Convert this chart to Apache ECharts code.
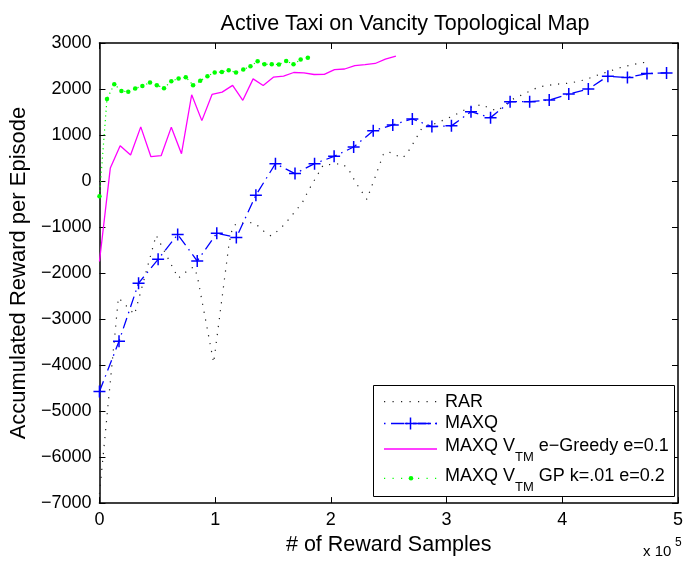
<!DOCTYPE html>
<html>
<head>
<meta charset="utf-8">
<script src="https://cdn.jsdelivr.net/npm/echarts@6/dist/echarts.min.js"></script>
<style>
  html, body { margin: 0; padding: 0; background: #fff; }
  #chart { width: 686px; height: 561px; }
</style>
</head>
<body>
<div id="chart"></div>
<script>
// Axis ticks (x in units of 1e5 reward samples)
const xTicks = [0, 1, 2, 3, 4, 5];
const yTicks = [-7000, -6000, -5000, -4000, -3000, -2000, -1000, 0, 1000, 2000, 3000];
const xScale = 100000;

// RAR (dotted black)
const rarX = [0, 16400, 30300, 49000, 68100, 78800, 81700, 84500, 98700, 112000, 115000, 118600,
  132200, 137000, 142600, 148300, 154000, 160000, 168200, 175300, 179600, 183000, 193400, 209400,
  215000, 221300, 231100, 238300, 245400, 249400, 255600, 261300, 265200, 272600, 279700, 286800,
  293000, 305200, 318000, 330500, 337000, 344100, 355400, 367300, 379600, 392800, 407100, 420800,
  427200, 440000, 453300, 466600, 473200];
const rarY = [-6800, -2535, -2900, -1177, -2112, -1894, -1873, -2056, -3950, -1362, -1010, -920,
  -905, -975, -1105, -1193, -1084, -940, -690, -470, -255, -100, 348, 378,
  270, -25, -400, 89, 583, 640, 572, 499, 572, 881, 1196, 1218,
  1276, 1412, 1578, 1665, 1578, 1527, 1757, 1900, 2043, 2101, 2130, 2208,
  2273, 2381, 2489, 2560, 2585];

// MAXQ (blue dash-dot with + markers)
const maxqX = [0, 16900, 33800, 50700, 67600, 84500, 101400, 118300, 135200, 152100, 169000, 185900,
  202800, 219700, 236600, 253500, 270400, 287300, 304200, 321100, 338000, 354900, 371800, 388700,
  405600, 422500, 439400, 456300, 473200, 490100];
const maxqY = [-4575, -3482, -2220, -1702, -1162, -1739, -1134, -1229, -307, 378, 162, 378,
  536, 739, 1091, 1220, 1350, 1184, 1199, 1508, 1378, 1724, 1724, 1760,
  1890, 1998, 2279, 2250, 2335, 2350];

// MAXQ V_TM e-Greedy e=0.1 (magenta solid)
const greedyX = [0, 9400, 17900, 26900, 35700, 44500, 53300, 62100, 70900, 79700, 88500, 97300,
  106000, 115100, 123900, 132800, 141500, 150300, 159100, 167900, 176700, 185500, 194300, 203100,
  211900, 220700, 229500, 238300, 247100, 256200];
const greedyY = [-1750, 285, 767, 566, 1177, 529, 551, 1171, 594, 1875, 1313, 1883,
  1933, 2078, 1754, 2220, 2078, 2257, 2279, 2359, 2350, 2315, 2320, 2420,
  2435, 2510, 2530, 2555, 2650, 2717];

// MAXQ V_TM GP k=.01 e=0.2 (green dotted with dots)
const gpX = [0, 6500, 12800, 19000, 24900, 30900, 37100, 43700, 49600, 55800, 62100, 68400,
  74600, 80900, 87100, 93300, 99600, 105800, 111700, 118000, 124300, 130500, 136700, 142600,
  148900, 155100, 161400, 167700, 173900, 180100];
const gpY = [-330, 1782, 2106, 1955, 1940, 2013, 2063, 2143, 2084, 2019, 2171, 2229,
  2257, 2084, 2177, 2279, 2359, 2371, 2408, 2359, 2423, 2495, 2603, 2538,
  2538, 2531, 2609, 2538, 2639, 2682];

const seriesNames = ['RAR', 'MAXQ', 'MAXQ V_TM e-Greedy e=0.1', 'MAXQ V_TM GP k=.01 e=0.2'];

const FONT = 'Liberation Sans, Arial, Helvetica, sans-serif';
const zip = (xs, ys) => xs.map((x, i) => [x, ys[i]]);
const minus = s => String(s).replace('-', '\u2212');

const plusSymbol = 'path://M0,5.25H12V6.75H0ZM5.25,0H6.75V12H5.25Z';

const axisLine = { show: true, onZero: false, lineStyle: { color: '#000', width: 1.5 } };
const axisTick = { show: true, inside: true, length: 6, lineStyle: { color: '#000', width: 1 } };

const xBase = {
  type: 'value',
  min: xTicks[0] * xScale,
  max: xTicks[xTicks.length - 1] * xScale,
  interval: xScale,
  axisLine, axisTick,
  splitLine: { show: false }
};
const yBase = {
  type: 'value',
  min: yTicks[0],
  max: yTicks[yTicks.length - 1],
  interval: 1000,
  axisLine, axisTick,
  splitLine: { show: false }
};

const chart = echarts.init(document.getElementById('chart'), null, { renderer: 'canvas' });

const legendRows = [401.7, 423.5, 449, 478.3];
const legendTextY = [401.7, 423.5, 446.3, 476];
const rich = {
  a: { fontSize: 18, fontFamily: FONT, color: '#000' },
  b: { fontSize: 13, fontFamily: FONT, color: '#000', padding: [22, 0, 0, 0] }
};

chart.setOption({
  animation: false,
  backgroundColor: '#fff',
  title: {
    text: 'Active Taxi on Vancity Topological Map',
    left: 400,
    top: 8,
    textAlign: 'center',
    textStyle: { fontFamily: FONT, fontSize: 21.5, fontWeight: 'normal', color: '#000' }
  },
  grid: { left: 96, right: 3, top: 43, bottom: 55, containLabel: false },
  xAxis: [
    Object.assign({}, xBase, {
      position: 'bottom',
      axisLabel: {
        show: true, margin: 8, color: '#000', fontFamily: FONT, fontSize: 18,
        formatter: v => String(v / xScale)
      },
      name: '# of Reward Samples',
      nameLocation: 'middle',
      nameGap: 30,
      nameTextStyle: { fontFamily: FONT, fontSize: 21.5, color: '#000' }
    }),
    Object.assign({}, xBase, { position: 'top', axisLabel: { show: false } })
  ],
  yAxis: [
    Object.assign({}, yBase, {
      position: 'left',
      axisLabel: {
        show: true, margin: 8, color: '#000', fontFamily: FONT, fontSize: 18,
        formatter: v => minus(v)
      },
      name: 'Accumulated Reward per Episode',
      nameLocation: 'middle',
      nameGap: 64,
      nameRotate: 90,
      nameTextStyle: { fontFamily: FONT, fontSize: 22, color: '#000' }
    }),
    Object.assign({}, yBase, { position: 'right', axisLabel: { show: false } })
  ],
  series: [
    {
      name: seriesNames[0], type: 'line', data: zip(rarX, rarY),
      symbol: 'none', silent: true,
      lineStyle: { color: '#222', width: 1.2, type: [1.2, 6.8] }
    },
    {
      name: seriesNames[1], type: 'line', data: zip(maxqX, maxqY),
      symbol: plusSymbol, symbolSize: 12, showAllSymbol: true, silent: true,
      itemStyle: { color: '#0000ff', borderWidth: 0 },
      lineStyle: { color: '#0000ff', width: 1.3, type: [11, 5, 1.5, 5] }
    },
    {
      name: seriesNames[2], type: 'line', data: zip(greedyX, greedyY),
      symbol: 'none', silent: true,
      lineStyle: { color: '#ff00ff', width: 1.3 }
    },
    {
      name: seriesNames[3], type: 'line', data: zip(gpX, gpY),
      symbol: 'circle', symbolSize: 4.5, showAllSymbol: true, silent: true,
      itemStyle: { color: '#00ff00', borderWidth: 0 },
      lineStyle: { color: '#00ff00', width: 1.2, type: [1.2, 3.5] }
    }
  ],
  graphic: [
    // legend box
    { type: 'rect', z: 100, shape: { x: 373.5, y: 385.5, width: 301, height: 111 },
      style: { fill: '#fff', stroke: '#000', lineWidth: 1 } },
    // RAR sample
    { type: 'line', z: 101, shape: { x1: 384, y1: legendRows[0], x2: 437, y2: legendRows[0] },
      style: { stroke: '#222', lineWidth: 1.2, lineDash: [1.2, 7.3] } },
    // MAXQ sample
    { type: 'line', z: 101, shape: { x1: 384, y1: legendRows[1], x2: 437, y2: legendRows[1] },
      style: { stroke: '#0000ff', lineWidth: 1.3, lineDash: [1.5, 5.5, 13, 2] } },
    { type: 'rect', z: 102, shape: { x: 404.5, y: legendRows[1] - 0.75, width: 12, height: 1.5 },
      style: { fill: '#0000ff' } },
    { type: 'rect', z: 102, shape: { x: 409.75, y: legendRows[1] - 6, width: 1.5, height: 12 },
      style: { fill: '#0000ff' } },
    { type: 'line', z: 101, shape: { x1: 418, y1: legendRows[1], x2: 437, y2: legendRows[1] },
      style: { stroke: '#0000ff', lineWidth: 1.3, lineDash: [13, 5, 1.5, 5] } },
    // e-Greedy sample
    { type: 'line', z: 101, shape: { x1: 384, y1: legendRows[2], x2: 437, y2: legendRows[2] },
      style: { stroke: '#ff00ff', lineWidth: 1.3 } },
    // GP sample
    { type: 'line', z: 101, shape: { x1: 384, y1: legendRows[3], x2: 437, y2: legendRows[3] },
      style: { stroke: '#00ff00', lineWidth: 1.2, lineDash: [1.2, 7.3] } },
    { type: 'circle', z: 102, shape: { cx: 411, cy: legendRows[3], r: 2.3 },
      style: { fill: '#00ff00' } },
    // legend texts
    { type: 'text', z: 103, x: 445, y: legendTextY[0],
      style: { text: 'RAR', fontFamily: FONT, fontSize: 18, fill: '#000', verticalAlign: 'middle' } },
    { type: 'text', z: 103, x: 445, y: legendTextY[1],
      style: { text: 'MAXQ', fontFamily: FONT, fontSize: 18, fill: '#000', verticalAlign: 'middle' } },
    { type: 'text', z: 103, x: 445, y: legendTextY[2],
      style: { text: '{a|MAXQ V}{b|TM}{a| e\u2212Greedy e=0.1}', rich, verticalAlign: 'middle' } },
    { type: 'text', z: 103, x: 445, y: legendTextY[3],
      style: { text: '{a|MAXQ V}{b|TM}{a| GP k=.01 e=0.2}', rich, verticalAlign: 'middle' } },
    // x-axis exponent
    { type: 'text', z: 103, x: 643, y: 552,
      style: { text: 'x 10', fontFamily: FONT, fontSize: 15, fill: '#000', verticalAlign: 'middle' } },
    { type: 'text', z: 103, x: 675, y: 543,
      style: { text: '5', fontFamily: FONT, fontSize: 12, fill: '#000', verticalAlign: 'middle' } }
  ]
});
</script>
</body>
</html>
